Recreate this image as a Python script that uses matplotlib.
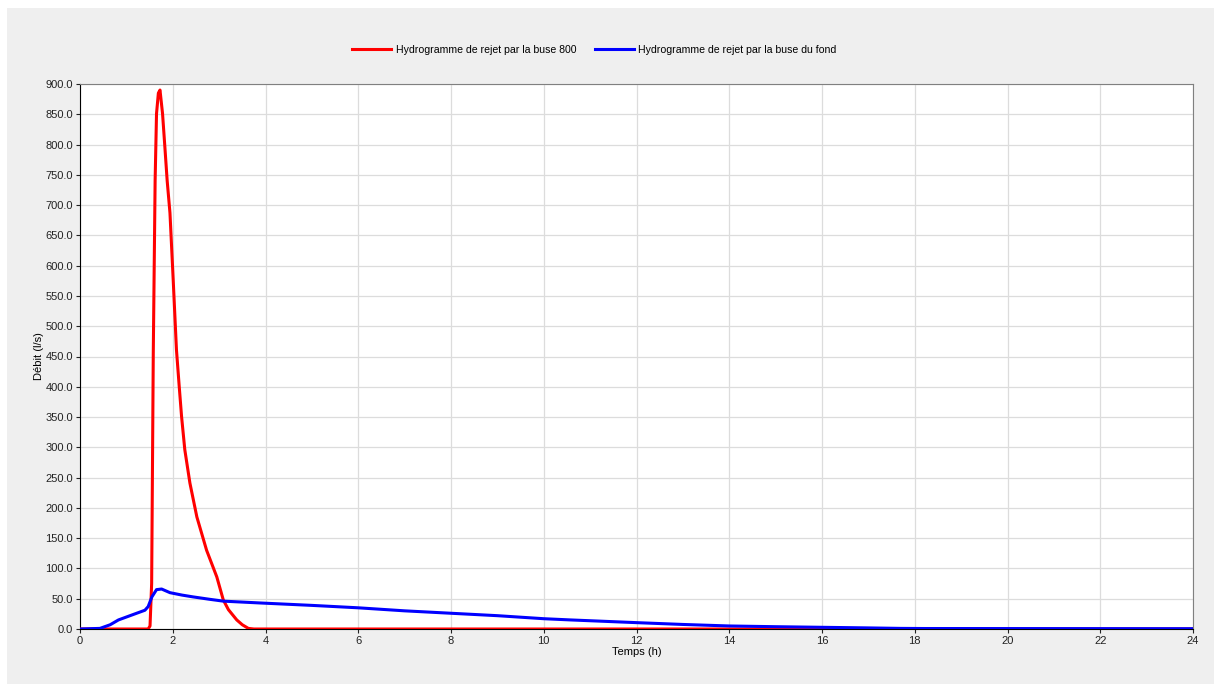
"""
Hydrogrammes de rejet - buse 800 et buse du fond
"""

import matplotlib.pyplot as plt
from matplotlib.patches import Rectangle

# Hydrogramme buse 800 (temps en h, debit en l/s)
red_t = [0, 1.47, 1.51, 1.545, 1.58, 1.62, 1.65, 1.69, 1.725, 1.78, 1.83, 1.88, 1.94,
         2.01, 2.08, 2.14, 2.19, 2.26, 2.37, 2.52, 2.73, 2.95, 3.09, 3.2, 3.38, 3.5,
         3.63, 3.75, 24]
red_q = [0, 0, 5, 75, 455, 741, 851, 885, 890, 851, 796, 740, 687,
         576, 461, 400, 351, 296, 241, 185, 130, 86, 48, 32, 15, 7,
         1, 0, 0]

# Hydrogramme buse du fond
blue_t = [0, 0.43, 0.65, 0.83, 1.15, 1.40, 1.47, 1.55, 1.65, 1.76, 1.94, 2.2, 2.44,
          2.8, 3.09, 3.88, 5, 6, 7, 8, 9, 10, 10.57, 12, 13, 14, 15, 16, 17, 17.7,
          18.2, 24]
blue_q = [0, 1, 7, 15, 24, 31, 37, 53, 65, 66, 60, 56, 53,
          49, 46, 43, 39, 35, 30, 26, 22, 17, 15, 10.5, 7.5, 5, 3.8, 2.8, 1.8, 1.0,
          0.8, 0.5]

labels = ["Hydrogramme de rejet par la buse 800",
          "Hydrogramme de rejet par la buse du fond"]

plt.rcParams['font.family'] = ['Liberation Sans', 'DejaVu Sans']

W, H = 1214, 684
fig = plt.figure(figsize=(W / 100, H / 100), dpi=100, facecolor='white')

# fond gris (derriere les axes)
fig.patches.append(Rectangle((7 / W, 0), 1 - 7 / W, 1 - 8 / H,
                             transform=fig.transFigure, facecolor='#efefef',
                             edgecolor='none', zorder=-10))

ax = fig.add_axes([80 / W, 1 - 629 / H, (1193 - 80) / W, (629 - 84) / H])
ax.set_zorder(1)
ax.set_facecolor('white')

ax.plot(red_t, red_q, color='#ff0000', linewidth=2.2, label=labels[0], zorder=3)
ax.plot(blue_t, blue_q, color='#0000ff', linewidth=2.2, label=labels[1], zorder=4)

ax.set_xlim(0, 24)
ax.set_ylim(0, 900)
ax.set_xticks(range(0, 25, 2))
ax.set_yticks(range(0, 901, 50))
ax.set_yticklabels([f"{v:.1f}" for v in range(0, 901, 50)])
ax.tick_params(labelsize=8, colors='#222222', length=3, width=0.8, pad=2)
ax.grid(True, color='#dcdcdc', linewidth=0.9)
ax.set_axisbelow(True)

for side in ['top', 'right']:
    ax.spines[side].set_color('#808080')
for side in ['left', 'bottom']:
    ax.spines[side].set_color('#000000')

ax.set_xlabel('Temps (h)', fontsize=8, labelpad=1)
ax.set_ylabel('Débit (l/s)', fontsize=8, labelpad=1)

fig.legend(loc='center', bbox_to_anchor=(594.5 / W, 1 - 50 / H), ncol=2, frameon=False,
           fontsize=7.6, handlelength=3.7, columnspacing=1.8, handletextpad=0.4)

fig.savefig('out.png', dpi=100, facecolor=fig.get_facecolor())
